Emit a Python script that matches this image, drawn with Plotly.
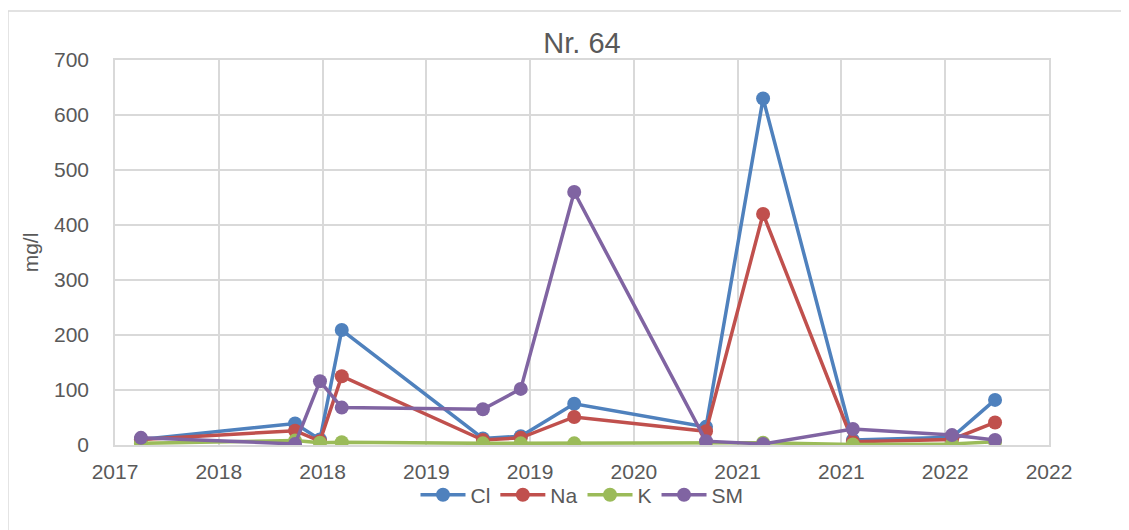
import plotly.graph_objects as go

# sample dates and concentrations in mg/l
dates = ["2017-11-11", "2018-09-04", "2018-10-22", "2018-12-03", "2019-09-01", "2019-11-13",
         "2020-02-24", "2020-11-04", "2021-02-22", "2021-08-14", "2022-02-21", "2022-05-15"]
cl = [10, 39, 10, 209, 12, 16, 75, 33, 630, 9, 14, 82]
na = [10, 26, 7, 125, 9, 13, 51, 25, 420, 6, 10, 41]
k = [3, 8, 4, 5, 3, 3, 3, 4, 4, 1, 2, 6]
sm = [13, 2, 116, 68, 65, 102, 460, 7, 2, 29, 18, 9]

series = [("Cl", cl, "#4F81BD"), ("Na", na, "#C0504D"), ("K", k, "#9BBB59"), ("SM", sm, "#8064A2")]

TEXT = "#595959"
GRID = "#D9D9D9"
FONT = "Liberation Sans, Arial, sans-serif"

fig = go.Figure()
for name, vals, col in series:
    fig.add_trace(go.Scatter(
        x=dates, y=vals, name=name, mode="lines+markers",
        line=dict(color=col, width=3.5),
        marker=dict(color=col, size=14),
    ))

# Excel-style date axis: 200-day major unit, labelled by year
fig.update_xaxes(
    type="date", range=["2017-09-22", "2022-08-27"],
    tick0="2017-09-22", dtick=200 * 86400000, tickformat="%Y",
    showgrid=True, gridcolor=GRID, gridwidth=1.5,
    showline=True, linecolor=GRID, linewidth=1.5, mirror=True,
    ticks="", ticklabelstandoff=7,
    tickfont=dict(size=21, color=TEXT, family=FONT),
)
fig.update_yaxes(
    range=[0, 700], dtick=100,
    showgrid=True, gridcolor=GRID, gridwidth=1.5,
    showline=True, linecolor=GRID, linewidth=1.5, mirror=True,
    zeroline=False, ticks="", ticklabelstandoff=20,
    tickfont=dict(size=21, color=TEXT, family=FONT),
    title=dict(text="mg/l", font=dict(size=21, color=TEXT, family=FONT), standoff=10),
)

# light chart-area frame (top and left edges visible)
fig.add_shape(type="line", xref="paper", yref="paper", x0=-0.1146, x1=1.09, y0=1.127, y1=1.127,
              line=dict(color=GRID, width=1.5))
fig.add_shape(type="line", xref="paper", yref="paper", x0=-0.1146, x1=-0.1146, y0=-0.25, y1=1.127,
              line=dict(color=GRID, width=1.5))

# page body adds an 8px offset, so the figure is 8px smaller and margins shifted
fig.update_layout(
    width=1121, height=522,
    margin=dict(l=107, r=80, t=52, b=85),
    paper_bgcolor="white", plot_bgcolor="white",
    font=dict(family=FONT, color=TEXT),
    title=dict(text="Nr. 64", x=0.5, xref="paper", xanchor="center",
               y=1 - 35 / 522, yref="container", yanchor="middle",
               font=dict(size=29, color=TEXT, family=FONT)),
    legend=dict(orientation="h", x=0.5, xanchor="center", y=-0.13, yanchor="middle",
                font=dict(size=21, color=TEXT, family=FONT), itemwidth=45,
                bgcolor="rgba(0,0,0,0)"),
    showlegend=True,
)

fig.write_html("out.html")
